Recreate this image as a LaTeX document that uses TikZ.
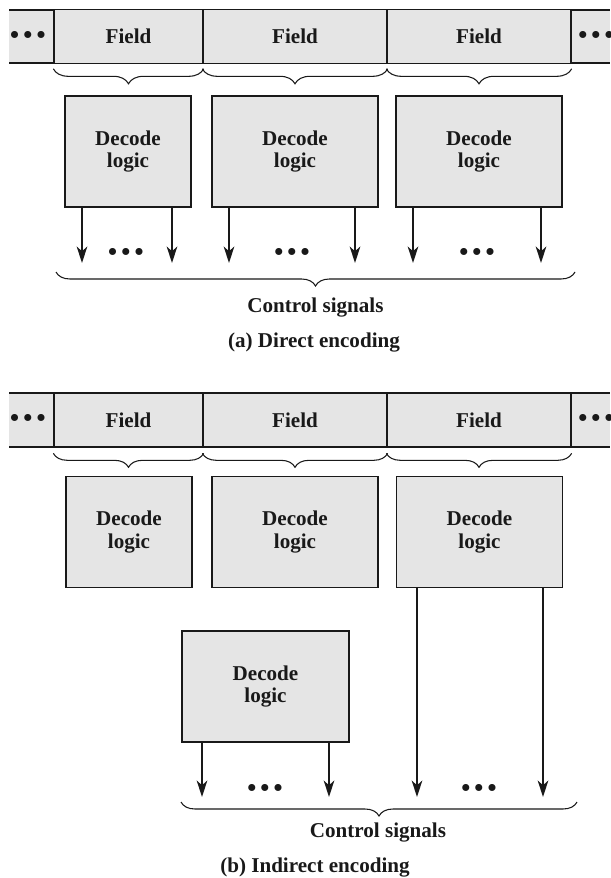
\documentclass[tikz,border=0pt]{standalone}
\usepackage{fontspec}
\setmainfont{Liberation Serif}
\usetikzlibrary{arrows.meta,positioning,decorations.pathreplacing}
\definecolor{boxgray}{RGB}{229,229,229}
\definecolor{inkdark}{RGB}{25,25,25}
\newcommand{\tdots}{{\fontsize{22}{22}\selectfont\textbullet\hspace{3.6pt}\textbullet\hspace{3.6pt}\textbullet}}

\begin{document}
\begin{tikzpicture}[x=0.03cm,y=-0.03cm,>={Stealth[length=14pt,width=9pt,inset=4pt]},
 every node/.style={font=\fontsize{18}{19.6}\selectfont\bfseries,text=inkdark},
 field/.style={draw=inkdark,line width=1.1pt,fill=boxgray,minimum height=1.6cm,inner sep=0pt},
 logic/.style={draw=inkdark,line width=1.1pt,fill=boxgray,minimum height=3.33cm,
 align=center,inner sep=0pt},
 sig/.style={->,inkdark,line width=1.7pt},
 brc/.style={decorate,decoration={brace,mirror,amplitude=#1},inkdark,line width=0.9pt}]
\useasboundingbox (0,0) rectangle (610,878);

% (a) direct encoding
\fill[boxgray] (9,10) rectangle (610,63);
\draw[inkdark,line width=1.1pt] (9,10) -- (610,10) (9,63) -- (610,63);
\node (la) at (28,37) {\tdots};
\node (ra) at (596,37) {\tdots};
\node[field,minimum width=4.47cm] (f1) at (128.5,36.5) {Field};
\node[field,minimum width=5.52cm] (f2) at (295,36.5) {Field};
\node[field,minimum width=5.52cm] (f3) at (479,36.5) {Field};
\draw[brc=0.45cm] ([yshift=-0.15cm]f1.south west) -- ([yshift=-0.15cm]f1.south east);
\draw[brc=0.45cm] ([yshift=-0.15cm]f2.south west) -- ([yshift=-0.15cm]f2.south east);
\draw[brc=0.45cm] ([yshift=-0.15cm]f3.south west) -- ([yshift=-0.15cm]f3.south east);

\node[logic,minimum width=3.78cm] (d1) at (128,151.5) {Decode\\logic};
\node[logic,minimum width=4.98cm] (d2) at (295,151.5) {Decode\\logic};
\node[logic,minimum width=4.98cm] (d3) at (479,151.5) {Decode\\logic};
\coordinate (a1) at (82,263);
\coordinate (a2) at (172,263);
\coordinate (a3) at (229,263);
\coordinate (a4) at (355,263);
\coordinate (a5) at (413,263);
\coordinate (a6) at (541,263);
\draw[sig] (d1.south -| a1) -- (a1);
\draw[sig] (d1.south -| a2) -- (a2);
\draw[sig] (d2.south -| a3) -- (a3);
\draw[sig] (d2.south -| a4) -- (a4);
\draw[sig] (d3.south -| a5) -- (a5);
\draw[sig] (d3.south -| a6) -- (a6);
\node (da1) at (126,254) {\tdots};
\node (da2) at (292,254) {\tdots};
\node (da3) at (477,254) {\tdots};
\coordinate (ca1) at (56,272);
\coordinate (ca2) at (575,272);
\draw[brc=0.42cm] (ca1) -- (ca2);
\node (csa) at (315.5,308) {Control signals};
\node (capa) at (314,343) {(a) Direct encoding};

% (b) indirect encoding
\fill[boxgray] (9,393) rectangle (610,447);
\draw[inkdark,line width=1.1pt] (9,393) -- (610,393) (9,447) -- (610,447);
\node (lb) at (28,420) {\tdots};
\node (rb) at (596,420) {\tdots};
\node[field,minimum width=4.47cm] (g1) at (128.5,420) {Field};
\node[field,minimum width=5.52cm] (g2) at (295,420) {Field};
\node[field,minimum width=5.52cm] (g3) at (479,420) {Field};
\draw[brc=0.42cm] ([yshift=-0.18cm]g1.south west) -- ([yshift=-0.18cm]g1.south east);
\draw[brc=0.42cm] ([yshift=-0.18cm]g2.south west) -- ([yshift=-0.18cm]g2.south east);
\draw[brc=0.42cm] ([yshift=-0.18cm]g3.south west) -- ([yshift=-0.18cm]g3.south east);

\node[logic,minimum width=3.78cm] (e1) at (129,532) {Decode\\logic};
\node[logic,minimum width=4.98cm] (e2) at (295,532) {Decode\\logic};
\node[logic,minimum width=4.98cm] (e3) at (479.5,532) {Decode\\logic};
\node[logic,minimum width=5.01cm] (e4) at (265.5,686.5) {Decode\\logic};
\coordinate (b1) at (202,797);
\coordinate (b2) at (329,797);
\coordinate (b3) at (417,797);
\coordinate (b4) at (543,797);
\draw[sig] (e4.south -| b1) -- (b1);
\draw[sig] (e4.south -| b2) -- (b2);
\draw[sig] (e3.south -| b3) -- (b3);
\draw[sig] (e3.south -| b4) -- (b4);
\node (db1) at (265,790) {\tdots};
\node (db2) at (479,790) {\tdots};
\coordinate (cb1) at (181,802);
\coordinate (cb2) at (577,802);
\draw[brc=0.42cm] (cb1) -- (cb2);
\node (csb) at (378,833) {Control signals};
\node (capb) at (315,867) {(b) Indirect encoding};
\end{tikzpicture}
\end{document}
